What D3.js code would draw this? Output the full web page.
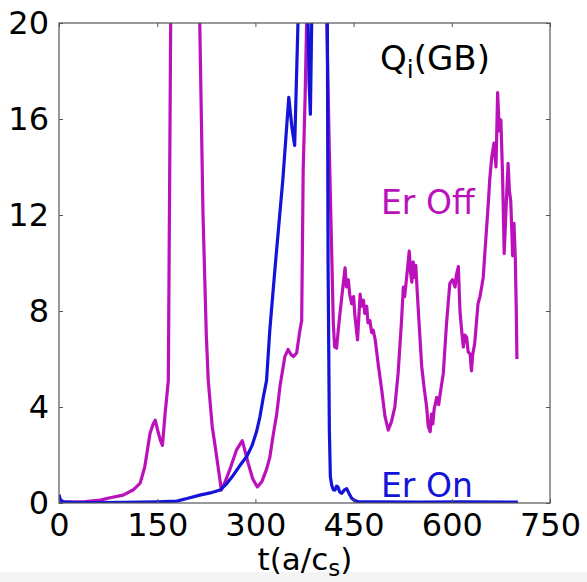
<!DOCTYPE html>
<html><head><meta charset="utf-8">
<script src="https://cdn.jsdelivr.net/npm/d3@7"></script>
<style>html,body{margin:0;padding:0;background:#fff;}svg{display:block;}</style>
</head><body>
<svg id="chart" width="587" height="582"></svg>
<script>
// ---- data ----
const xTicks = [0, 150, 300, 450, 600, 750];
const yTicks = [0, 4, 8, 12, 16, 20];
const seriesNames = ["Er Off", "Er On"];

const erOffT = [0, 20, 40, 63, 78, 98, 113, 124, 131, 139, 144, 147, 151, 155, 158, 162, 167, 170.6, 175, 190, 205, 215, 220, 225, 228, 234, 241, 248, 254, 261, 271, 280, 289, 296, 303, 310, 317, 322, 327, 332.5, 337.5, 345, 350, 354, 358, 363, 368, 370.7, 373, 376, 379, 385, 395, 405, 409, 413, 416, 419, 421, 424, 428, 432, 437, 439, 442, 444, 447, 450, 452, 454, 456, 460, 462, 465, 467, 470, 472, 475, 477.6, 480, 483, 488, 493, 498, 503, 508, 513, 518, 523, 526, 528, 531, 535, 537, 539, 541, 543, 545, 547, 550, 554, 557.5, 561.6, 564, 567, 569, 571, 573, 577, 580, 582, 587, 592, 597, 601, 605, 607, 610, 612.5, 615, 617.6, 620, 622.7, 625, 628, 630, 632, 635, 640, 643, 645.6, 648, 650.7, 653, 656, 658, 661, 664.4, 667.5, 670, 672.6, 675, 677.7, 680, 683, 686, 688, 690, 693, 695, 697, 698.5, 699.5];
const erOffV = [0.05, 0.04, 0.06, 0.12, 0.22, 0.33, 0.54, 0.83, 1.5, 2.9, 3.3, 3.45, 3.0, 2.6, 2.4, 3.7, 5.1, 20, 35, 60, 40, 20, 12, 7, 5.1, 3.2, 1.9, 0.54, 0.9, 1.4, 2.2, 2.6, 1.65, 1.0, 0.67, 0.9, 1.4, 1.9, 2.8, 3.7, 4.85, 6.1, 6.4, 6.2, 6.1, 6.25, 7.2, 7.6, 13.9, 17, 21, 30, 40, 35, 20, 14.6, 11.1, 7.5, 6.5, 6.45, 7.6, 8.6, 9.8, 9.0, 9.3, 8.7, 8.3, 8.6, 7.8, 7.3, 6.8, 8.7, 8.2, 8.45, 7.9, 8.2, 7.5, 7.6, 7.1, 7.2, 6.8, 5.7, 4.7, 3.6, 3.04, 3.4, 4.0, 5.4, 7.5, 9.0, 8.6, 9.4, 10.5, 9.6, 9.2, 10.05, 9.4, 9.9, 8.9, 7.5, 5.7, 4.85, 4.0, 3.2, 2.97, 3.7, 3.3, 3.9, 4.4, 4.1, 4.5, 5.4, 7.5, 9.15, 9.3, 9.0, 9.5, 9.85, 8.0, 7.2, 6.5, 7.0, 6.9, 6.3, 6.2, 5.5, 6.2, 6.65, 8.3, 8.6, 9.0, 9.4, 10.5, 11.4, 12.6, 13.5, 14.4, 15.0, 14.0, 17.1, 15.5, 15.96, 13.5, 10.4, 12.35, 14.15, 13.0, 12.6, 10.3, 11.65, 10.2, 8.0, 6.0];

const erOnT = [0, 2, 6, 30, 60, 100, 150, 180, 197, 215, 231, 246, 256, 266, 276, 287, 295, 302, 307, 312, 317, 322, 330, 342, 351, 356, 360, 366, 372, 378, 382, 384, 386.5, 390, 400, 409.5, 411, 413, 414.5, 416.5, 419, 421.6, 424, 426, 429, 432, 436, 439.4, 443, 447, 452, 457, 480, 550, 620, 701];
const erOnV = [0.35, 0.15, 0.05, 0.02, 0.02, 0.03, 0.05, 0.08, 0.2, 0.33, 0.42, 0.54, 0.8, 1.15, 1.55, 1.95, 2.4, 3.0, 3.6, 4.4, 5.1, 7.2, 9.8, 13.5, 16.9, 15.6, 14.9, 21, 26, 24, 17.5, 16.2, 21, 30, 35, 24, 10, 3, 1.1, 0.75, 0.55, 0.54, 0.7, 0.67, 0.45, 0.4, 0.55, 0.6, 0.4, 0.2, 0.1, 0.05, 0.05, 0.04, 0.05, 0.04];

// ---- layout ----
const W = 587, H = 582;
const L = 59, R = 550, T = 23, B = 503;
const colOff = "#bb11bb", colOn = "#1414d8";
const svg = d3.select("#chart");

svg.append("rect").attr("x", 0).attr("y", 572).attr("width", W).attr("height", H - 572).attr("fill", "#f4f4f4");

const x = d3.scaleLinear().domain([0, 750]).range([L, R]);
const y = d3.scaleLinear().domain([0, 20]).range([B, T]);

svg.append("defs").append("clipPath").attr("id", "clip")
  .append("rect").attr("x", L).attr("y", T).attr("width", R - L).attr("height", B - T);

const line = d3.line().x(d => x(d[0])).y(d => y(d[1]));
const offData = erOffT.map((t, i) => [t, erOffV[i]]);
const onData = erOnT.map((t, i) => [t, erOnV[i]]);

const g = svg.append("g").attr("clip-path", "url(#clip)");
g.append("path").datum(offData).attr("d", line).attr("fill", "none")
  .attr("stroke", colOff).attr("stroke-width", 3.2).attr("stroke-linejoin", "round");
g.append("path").datum(onData).attr("d", line).attr("fill", "none")
  .attr("stroke", colOn).attr("stroke-width", 3.2).attr("stroke-linejoin", "round");

// frame
svg.append("rect").attr("x", L).attr("y", T).attr("width", R - L).attr("height", B - T)
  .attr("fill", "none").attr("stroke", "#555").attr("stroke-width", 1.2);

// axes with inward ticks
const fontFam = "'DejaVu Sans', sans-serif";
const xAxisB = d3.axisBottom(x).tickValues(xTicks).tickSize(-4).tickPadding(10).tickFormat(d3.format("d"));
const xAxisT = d3.axisTop(x).tickValues(xTicks).tickSize(-4).tickFormat("");
const yAxisL = d3.axisLeft(y).tickValues(yTicks).tickSize(-4).tickPadding(10).tickFormat(d3.format("d"));
const yAxisR = d3.axisRight(y).tickValues(yTicks).tickSize(-4).tickFormat("");

function style(sel) {
  sel.select(".domain").remove();
  sel.selectAll(".tick line").attr("stroke", "#555");
  sel.selectAll(".tick text").attr("fill", "#000").style("font-family", fontFam).style("font-size", "32px");
}
svg.append("g").attr("transform", `translate(0,${B})`).call(xAxisB).call(style);
svg.append("g").attr("transform", `translate(0,${T})`).call(xAxisT).call(style);
svg.append("g").attr("transform", `translate(${L},0)`).call(yAxisL).call(style);
svg.append("g").attr("transform", `translate(${R},0)`).call(yAxisR).call(style);

// axis title
const xt = svg.append("text").attr("x", 305).attr("y", 570).attr("text-anchor", "middle")
  .style("font-family", fontFam).style("font-size", "31px").attr("fill", "#000");
xt.append("tspan").text("t(a/c");
xt.append("tspan").attr("dy", 6).style("font-size", "23px").text("s");
xt.append("tspan").attr("dy", -6).text(")");

// panel label
const q = svg.append("text").attr("x", 380).attr("y", 70)
  .style("font-family", fontFam).style("font-size", "34px").attr("fill", "#000");
q.append("tspan").text("Q");
q.append("tspan").attr("dy", 8).style("font-size", "25px").text("i");
q.append("tspan").attr("dy", -8).text("(GB)");

// series labels
svg.append("text").attr("x", 381).attr("y", 214).text(seriesNames[0])
  .style("font-family", fontFam).style("font-size", "33px").attr("fill", colOff);
svg.append("text").attr("x", 381).attr("y", 497).text(seriesNames[1])
  .style("font-family", fontFam).style("font-size", "33px").attr("fill", colOn);
</script>
</body></html>
